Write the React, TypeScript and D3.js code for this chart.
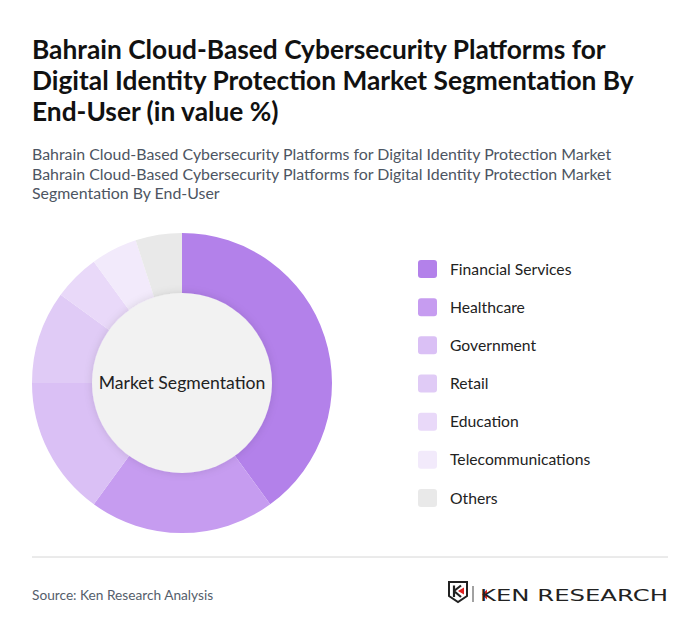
import React from "react";
import * as d3 from "d3";

const categories = ["Financial Services", "Healthcare", "Government", "Retail", "Education", "Telecommunications", "Others"];
const values = [40, 20, 15, 10, 5, 5, 5];
const colors = ["#b381ea", "#c69cf0", "#dac0f5", "#e0cbf6", "#e9d9f9", "#f2eafb", "#e9e9e9"];
const titleLines = [
  "Bahrain Cloud-Based Cybersecurity Platforms for",
  "Digital Identity Protection Market Segmentation By",
  "End-User (in value %)",
];
const subtitleLines = [
  "Bahrain Cloud-Based Cybersecurity Platforms for Digital Identity Protection Market",
  "Bahrain Cloud-Based Cybersecurity Platforms for Digital Identity Protection Market",
  "Segmentation By End-User",
];

export default function App() {
  const W = 700, H = 642;
  const cx = 182, cy = 383, rOuter = 150, rInner = 90;
  const pie = d3.pie<number>().value((d) => d).sort(null);
  const arcs = pie(values);
  const arc = d3.arc<d3.PieArcDatum<number>>().innerRadius(rInner - 2).outerRadius(rOuter);
  const legendY = d3.scalePoint<string>().domain(categories).range([269, 498]);
  const font = "Lato, 'Open Sans', sans-serif";
  return (
    <div style={{ position: "absolute", left: 0, top: 0 }}>
      <svg width={W} height={H} style={{ display: "block", fontFamily: font }}>
        <defs>
          <filter id="sh" x="-20%" y="-20%" width="140%" height="140%">
            <feDropShadow dx="0" dy="0" stdDeviation="4" floodColor="#000" floodOpacity="0.12" />
          </filter>
        </defs>
        <rect width={W} height={H} fill="#fff" />
        {titleLines.map((t, i) => (
          <text key={i} x={32} y={59 + i * 31} fontSize={26.3} fontWeight={700} fill="#111">
            {t}
          </text>
        ))}
        {subtitleLines.map((t, i) => (
          <text key={i} x={32} y={160 + i * 19.5} fontSize={15.9} fill="#4d5562">
            {t}
          </text>
        ))}
        <g transform={`translate(${cx},${cy})`}>
          {arcs.map((a, i) => (
            <path key={i} d={arc(a) || ""} fill={colors[i]} />
          ))}
          <circle r={rInner} fill="#f2f2f2" filter="url(#sh)" />
          <text textAnchor="middle" dy="0.35em" fontSize={17.6} fill="#222">
            Market Segmentation
          </text>
        </g>
        {categories.map((c, i) => (
          <g key={c} transform={`translate(418,${legendY(c)})`}>
            <rect x={0} y={-9} width={19} height={18} rx={3} fill={colors[i]} />
            <text x={32} y={0} dy="0.35em" fontSize={15.7} fill="#222">
              {c}
            </text>
          </g>
        ))}
        <line x1={32} x2={668} y1={557} y2={557} stroke="#d6d6d6" strokeWidth={1} />
        <text x={32} y={600} fontSize={13.7} fill="#555e6b">
          Source: Ken Research Analysis
        </text>
        <g transform="translate(449,582)">
          <path d="M0,0 H18 V14 L9,20 L0,14 Z" fill="none" stroke="#222" strokeWidth={2} />
          <path d="M5,3.5 V15 M5,9 L12,3.5 M5,9 L12,15" fill="none" stroke="#222" strokeWidth={2.2} />
          <path d="M9,9 L15,5.5 V12.5 Z" fill="#d22" />
          <line x1={24} x2={24} y1={4} y2={20} stroke="#444" strokeWidth={1} />
          <path d="M38,7.5 L33,12.5 L38,17.5 Z" fill="#d22" />
          <text x={31} y={19} fontSize={16.5} fontFamily="'DejaVu Sans', sans-serif" fill="#222" textLength={188} lengthAdjust="spacingAndGlyphs">
            KEN RESEARCH
          </text>
        </g>
      </svg>
    </div>
  );
}
